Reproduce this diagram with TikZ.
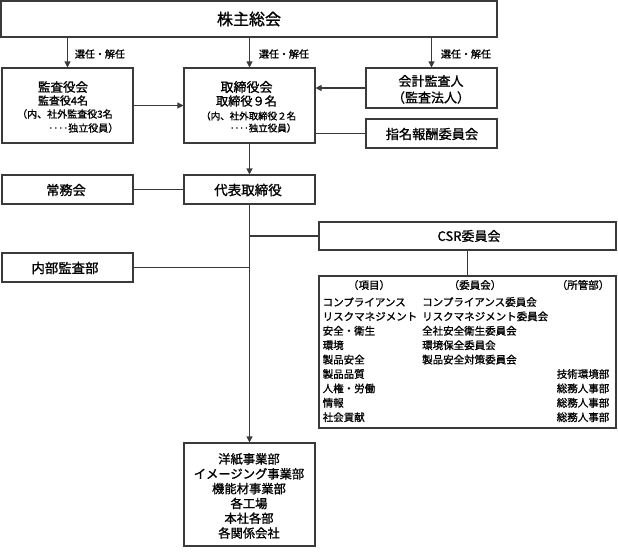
\documentclass[tikz,border=0pt]{standalone}
\usepackage{fontspec}
\setmainfont{Noto Sans CJK JP}[FakeBold=1.2]
\usetikzlibrary{arrows.meta}
\definecolor{ln}{HTML}{3A3A3A}
\tikzset{
  box/.style={draw=ln, line width=1.1pt, rectangle, inner sep=0pt, anchor=center},
  con/.style={draw=ln, line width=1.1pt},
  arr/.style={con, -{Triangle[length=6pt,width=6pt]}},
  txt/.style={inner sep=0pt, text=black},
  fs/.style={font=\fontsize{#1}{#1}\selectfont}
}
\begin{document}
\begin{tikzpicture}[x=1pt,y=-1pt]
\useasboundingbox (0,0) rectangle (618,552);
% boxes
\node[box, minimum width=496, minimum height=36] (sh) at (249,19) {};
\node[box, minimum width=131, minimum height=75] (kansa) at (67.5,105.5) {};
\node[box, minimum width=131, minimum height=75] (tori) at (249.5,105.5) {};
\node[box, minimum width=131, minimum height=40] (kaikei) at (431.5,88) {};
\node[box, minimum width=131, minimum height=29] (shimei) at (431.5,133.5) {};
\node[box, minimum width=131, minimum height=29] (jomu) at (67.5,189.5) {};
\node[box, minimum width=131, minimum height=29] (daihyo) at (249.5,189.5) {};
\node[box, minimum width=297, minimum height=28] (csr) at (467.5,236) {};
\node[box, minimum width=131, minimum height=29] (naibu) at (67.5,267.5) {};
\node[box, minimum width=297, minimum height=152] (list) at (467.5,352) {};
\node[box, minimum width=131, minimum height=103] (bottom) at (249.5,494.5) {};
% texts
\node[txt, fs=16] (tsh) at (249,19) {株主総会};
\node[txt, fs=10] (l1) at (100,54) {選任・解任};
\node[txt, fs=10] (l2) at (284,54) {選任・解任};
\node[txt, fs=10] (l3) at (466,54) {選任・解任};
\node[txt, fs=12.5] (tk1) at (63,87) {監査役会};
\node[txt, fs=11] (tk2) at (63,100.5) {監査役4名};
\node[txt, fs=10, anchor=west] (tk3) at (17,114) {（内、社外監査役3名};
\node[txt, fs=10, anchor=east] (tk4) at (118.5,128) {‥‥独立役員）};
\node[txt, fs=13] (tt1) at (246.5,87) {取締役会};
\node[txt, fs=12.2] (tt2) at (246.5,101) {取締役９名};
\node[txt, fs=9.5, anchor=west] (tt3) at (201,116) {（内、社外取締役２名};
\node[txt, fs=9.5, anchor=east] (tt4) at (296.5,128) {‥‥独立役員）};
\node[txt, fs=13] (tkk1) at (431,81) {会計監査人};
\node[txt, fs=13] (tkk2) at (431,97.5) {（監査法人）};
\node[txt, fs=13.2] (tsm) at (432,134) {指名報酬委員会};
\node[txt, fs=13.2] (tjm) at (66,190) {常務会};
\node[txt, fs=13.5] (tdh) at (248,190) {代表取締役};
\node[txt, fs=13] (tcsr) at (469,236) {CSR委員会};
\node[txt, fs=13.4] (tnb) at (65,268) {内部監査部};
% list
\node[txt, fs=10.5] (h1) at (369,285) {（項目）};
\node[txt, fs=10.5] (h2) at (475,285) {（委員会）};
\node[txt, fs=10.5] (h3) at (583,285) {（所管部）};
\foreach \t [count=\i] in {コンプライアンス,リスクマネジメント,安全・衛生,環境,製品安全,製品品質,人権・労働,情報,社会貢献}
  \node[txt, fs=10.5, anchor=west] (it\i) at (322.5,{302+14.4*(\i-1)}) {\t};
\foreach \t [count=\i] in {コンプライアンス委員会,リスクマネジメント委員会,全社安全衛生委員会,環境保全委員会,製品安全対策委員会}
  \node[txt, fs=10.5, anchor=west] (cm\i) at (422,{302+14.4*(\i-1)}) {\t};
\foreach \t [count=\i from 6] in {技術環境部,総務人事部,総務人事部,総務人事部}
  \node[txt, fs=10.5, anchor=east] (dp\i) at (609.5,{302+14.4*(\i-1)}) {\t};
% bottom
\foreach \t [count=\i] in {洋紙事業部,イメージング事業部,機能材事業部,各工場,本社各部,各関係会社}
  \node[txt, fs=12.3] (bt\i) at (249,{459+14.8*(\i-1)}) {\t};
% connectors
\draw[arr] (sh.south -| kansa.north) -- (kansa.north);
\draw[arr] (sh.south -| tori.north) -- (tori.north);
\draw[arr] (sh.south -| kaikei.north) -- (kaikei.north);
\draw[arr] (kansa.east) -- (tori.west);
\draw[arr] (kaikei.west) -- (kaikei.west -| tori.east);
\draw[con] (shimei.west -| tori.east) -- (shimei.west);
\draw[arr] (tori.south) -- (daihyo.north);
\draw[con] (jomu.east) -- (daihyo.west);
\draw[arr] (daihyo.south) -- (bottom.north);
\draw[con] (csr.west -| daihyo.south) -- (csr.west);
\draw[con] (naibu.east -| daihyo.south) -- (naibu.east);
\draw[con] (csr.south) -- (list.north);
\end{tikzpicture}
\end{document}
